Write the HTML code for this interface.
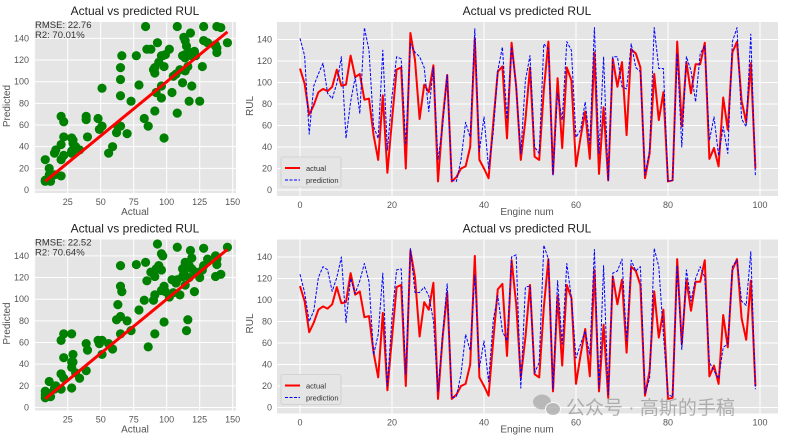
<!DOCTYPE html>
<html><head><meta charset="utf-8">
<style>
body{margin:0;background:#fff;width:785px;height:436px;overflow:hidden;font-family:"Liberation Sans","Noto Sans CJK SC",sans-serif;}
svg text{font-family:"Liberation Sans","Noto Sans CJK SC",sans-serif;}
</style></head>
<body>
<svg id="chart" width="785" height="436" viewBox="0 0 785 436" xmlns="http://www.w3.org/2000/svg"></svg>
<script>
const actual=[113,99,70,79,91,94,92,96,112,97,98,125,105,108,84,85,51,28,88,16,65,112,114,20,146,121,66,98,91,116,8,65,107,8,12,20,22,40,141,28,20,11,62,110,115,48,137,96,28,65,114,31,28,93,138,15,104,39,114,102,22,49,73,29,128,15,77,9,122,96,119,51,131,127,114,11,34,108,65,91,8,9,138,59,119,90,117,117,137,29,39,22,86,56,128,138,83,63,118,20];
const pred1=[141,125,52,97,108,118,90,85,99,124,48,82,105,71,151,130,59,48,130,37,87,124,122,42,136,128,124,114,73,114,28,59,107,9,8,28,63,49,150,36,68,20,53,111,133,66,133,96,34,102,125,40,34,136,131,14,90,65,138,130,49,56,82,43,151,34,124,9,124,124,96,94,136,114,110,14,37,151,113,113,8,9,127,40,124,111,82,127,134,46,68,32,59,34,138,151,66,59,145,13];
const pred2=[124,107,80,90,121,131,128,108,121,140,79,120,106,118,134,117,49,68,125,20,84,128,129,31,148,107,107,112,104,81,15,68,115,9,10,31,68,53,123,37,62,24,81,104,71,62,140,142,18,112,113,32,42,151,138,17,118,59,134,102,46,59,71,49,147,18,132,12,125,127,138,62,137,127,131,13,27,148,131,68,12,10,132,54,128,99,120,131,121,42,34,27,56,59,131,137,99,95,145,17];
const metrics=[["RMSE: 22.76","R2: 70.01%"],["RMSE: 22.52","R2: 70.64%"]];
const scatterXTicks=[0,25,50,75,100,125,150];
const scatterYTicks=[0,20,40,60,80,100,120,140];
const lineXTicks=[0,20,40,60,80,100];
const lineYTicks=[0,20,40,60,80,100,120,140];

const NS="http://www.w3.org/2000/svg";
const svg=document.getElementById('chart');
function mk(tag,attrs,parent){const e=document.createElementNS(NS,tag);for(const k in attrs)e.setAttribute(k,attrs[k]);(parent||svg).appendChild(e);return e;}
function txt(s,attrs,parent){const e=mk('text',attrs,parent);e.textContent=s;return e;}

function drawRow(row,pred){
  const off=row*217.5;
  const g=mk('g',{});
  
  
  // ---- scatter ----
  const sx0=34,sx1=236,sy0=190+off,syTop=22+off;
  const sxs=v=>34.7+v*1.32;
  const sys=v=>sy0-v*1.083;
  const sc=mk('g',{},g);
  
  
  const bg=mk('rect',{x:sx0,y:syTop,width:sx1-sx0,height:sy0+3-syTop,fill:'#e5e5e5'},sc);
  
  
  scatterXTicks.forEach(t=>{const x=sxs(t);if(x<sx0||x>sx1)return;
    mk('line',{x1:x,x2:x,y1:syTop,y2:sy0+3,stroke:'#fff','stroke-width':1},sc);
    if(t>0){const l=txt(String(t),{x:x,y:sy0+15,'font-size':9,fill:'#555','text-anchor':'middle'},sc);
    
    }});
  scatterYTicks.forEach(t=>{const y=sys(t);
    mk('line',{x1:sx0,x2:sx1,y1:y,y2:y,stroke:'#fff','stroke-width':1},sc);
    const l=txt(String(t),{x:sx0-5,y:y+3,'font-size':9,fill:'#555','text-anchor':'end'},sc);
    
    });
  actual.forEach((a,i)=>{const c=mk('circle',{cx:sxs(a),cy:sys(pred[i]),r:4.6,fill:'#008000'},sc);
    
    });
  const mn=Math.min(...actual),mx=Math.max(...actual);
  const ln=mk('line',{x1:sxs(mn),y1:sys(mn),x2:sxs(mx),y2:sys(mx),stroke:'#ff0000','stroke-width':3},sc);
  
  
  const m1=txt(metrics[row][0],{x:35,y:28+off,'font-size':9.5,fill:'#333'},sc);
  
  
  const m2=txt(metrics[row][1],{x:35,y:38+off,'font-size':9.5,fill:'#333'},sc);
  
  
  const st=txt('Actual vs predicted RUL',{x:135,y:15+off,'font-size':12,fill:'#222','text-anchor':'middle'},sc);
  
  
  const sxl=txt('Actual',{x:135,y:215+off,'font-size':10,fill:'#555','text-anchor':'middle'},sc);
  
  
  const syl=txt('Predicted',{x:0,y:0,'font-size':10,fill:'#555','text-anchor':'middle',transform:`translate(10,${106+off}) rotate(-90)`},sc);
  
  

  // ---- line chart ----
  const lx0=277,lx1=778,ly0=190+off,lyTop=22+off;
  const lxs=i=>300+i*4.6;
  const lys=v=>ly0-v*1.075;
  const lc=mk('g',{},g);
  
  
  const lbg=mk('rect',{x:lx0,y:lyTop,width:lx1-lx0,height:ly0+6-lyTop,fill:'#e5e5e5'},lc);
  
  
  lineXTicks.forEach(t=>{const x=lxs(t);
    mk('line',{x1:x,x2:x,y1:lyTop,y2:ly0+6,stroke:'#fff','stroke-width':1},lc);
    const l=txt(String(t),{x:x,y:ly0+18,'font-size':9,fill:'#555','text-anchor':'middle'},lc);
    
    });
  lineYTicks.forEach(t=>{const y=lys(t);
    mk('line',{x1:lx0,x2:lx1,y1:y,y2:y,stroke:'#fff','stroke-width':1},lc);
    const l=txt(String(t),{x:lx0-5,y:y+3,'font-size':9,fill:'#555','text-anchor':'end'},lc);
    
    });
  const pa=mk('polyline',{points:actual.map((v,i)=>lxs(i)+','+lys(v)).join(' '),fill:'none',stroke:'#ff0000','stroke-width':2,'stroke-linejoin':'round'},lc);
  
  
  const pp=mk('polyline',{points:pred.map((v,i)=>lxs(i)+','+lys(v)).join(' '),fill:'none',stroke:'#0000ff','stroke-width':1,'stroke-dasharray':'3,1.5','stroke-linejoin':'round'},lc);
  
  
  const lg=mk('g',{},lc);
  
  
  mk('rect',{x:281,y:157+off,width:60,height:30,fill:'#e5e5e5',stroke:'#ccc','stroke-width':0.8,rx:2},lg);
  mk('line',{x1:285,x2:300,y1:168+off,y2:168+off,stroke:'#ff0000','stroke-width':2},lg);
  mk('line',{x1:285,x2:300,y1:180+off,y2:180+off,stroke:'#0000ff','stroke-width':1,'stroke-dasharray':'3,1.5'},lg);
  const la=txt('actual',{x:306,y:171+off,'font-size':7.5,fill:'#333'},lg);
  
  
  const lp=txt('prediction',{x:306,y:183+off,'font-size':7.5,fill:'#333'},lg);
  
  
  const lt=txt('Actual vs predicted RUL',{x:527,y:15+off,'font-size':12,fill:'#222','text-anchor':'middle'},lc);
  
  
  const lxl=txt('Engine num',{x:527,y:215+off,'font-size':10,fill:'#555','text-anchor':'middle'},lc);
  
  
  const lyl=txt('RUL',{x:0,y:0,'font-size':10,fill:'#555','text-anchor':'middle',transform:`translate(253,${106+off}) rotate(-90)`},lc);
  
  
}
drawRow(0,pred1);
drawRow(1,pred2);
const wm=mk('g',{opacity:0.75});


mk('ellipse',{cx:542,cy:402,rx:9,ry:7.5,fill:'#aaa'},wm);
mk('ellipse',{cx:553,cy:409,rx:7.5,ry:6.5,fill:'#aaa',stroke:'#fff','stroke-width':1},wm);
txt('公众号 · 高斯的手稿',{x:566,y:414,'font-size':19,fill:'#999'},wm);
</script>
</body></html>
